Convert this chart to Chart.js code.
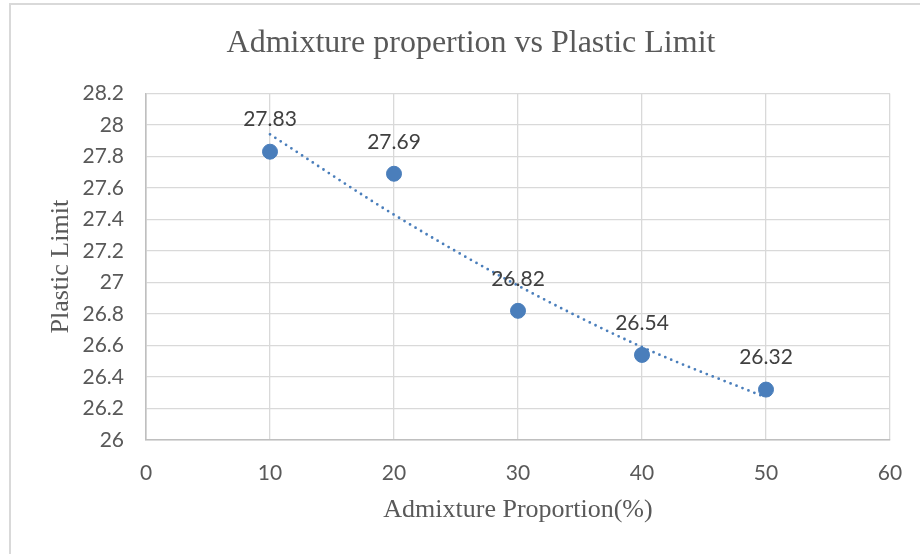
<!DOCTYPE html>
<html>
<head>
<meta charset="utf-8">
<script src="https://cdn.jsdelivr.net/npm/chart.js@4"></script>
<style>
  html, body { margin: 0; padding: 0; background: #fff; }
  #wrap { position: relative; width: 920px; height: 554px; overflow: hidden; }
  #frame { position: absolute; left: 9px; top: 3px; width: 940px; height: 600px;
           border-left: 2px solid #d9d9d9; border-top: 2px solid #d9d9d9; }
  canvas { position: absolute; left: 0; top: 0; }
</style>
</head>
<body>
<div id="wrap">
  <div id="frame"></div>
  <canvas id="chart" width="920" height="554"></canvas>
</div>
<script>
// admixture proportion (%) and measured plastic limit
const proportions = [10, 20, 30, 40, 50];
const plasticLimit = [27.83, 27.69, 26.82, 26.54, 26.32];

// dotted trendline
const trendX = [10, 20, 30, 40, 50];
const trendY = [27.94, 27.43, 26.98, 26.59, 26.27];

const xTicks = [0, 10, 20, 30, 40, 50, 60];
const yTicks = [26, 26.2, 26.4, 26.6, 26.8, 27, 27.2, 27.4, 27.6, 27.8, 28, 28.2];

const blue = '#4a7ebb';
const serif = "'Liberation Serif', 'Times New Roman', serif";
const sans = "Lato, 'Open Sans', sans-serif";

// writes each value just above its marker
const valueLabels = {
  id: 'valueLabels',
  afterDatasetsDraw(chart) {
    const ctx = chart.ctx;
    const meta = chart.getDatasetMeta(1);
    ctx.save();
    ctx.font = '21px ' + sans;
    ctx.fillStyle = '#404040';
    ctx.textAlign = 'center';
    ctx.textBaseline = 'middle';
    meta.data.forEach((pt, i) => {
      ctx.fillText(String(plasticLimit[i]), pt.x, pt.y - 32);
    });
    ctx.restore();
  }
};

new Chart(document.getElementById('chart').getContext('2d'), {
  type: 'scatter',
  data: {
    datasets: [
      {
        type: 'line',
        label: 'Trend',
        data: trendX.map((x, i) => ({ x: x, y: trendY[i] })),
        borderColor: blue,
        borderWidth: 2.8,
        borderDash: [0, 6.4],
        borderCapStyle: 'round',
        pointRadius: 0,
        fill: false,
        cubicInterpolationMode: 'monotone'
      },
      {
        label: 'Plastic Limit',
        data: proportions.map((x, i) => ({ x: x, y: plasticLimit[i] })),
        backgroundColor: blue,
        borderColor: blue,
        pointRadius: 7.5,
        pointHoverRadius: 7.5
      }
    ]
  },
  options: {
    responsive: false,
    animation: false,
    events: [],
    layout: { padding: { left: 52, right: 30, top: 0, bottom: 0 } },
    plugins: {
      legend: { display: false },
      tooltip: { enabled: false },
      title: {
        display: true,
        text: 'Admixture propertion vs Plastic Limit',
        color: '#595959',
        font: { family: serif, size: 32, weight: 'normal' },
        padding: { top: 24, bottom: 31 }
      }
    },
    scales: {
      x: {
        type: 'linear',
        min: 0,
        max: 60,
        afterBuildTicks: s => { s.ticks = xTicks.map(v => ({ value: v })); },
        afterFit: s => { s.height = 114; },
        ticks: { color: '#595959', font: { family: sans, size: 21 }, padding: 14 },
        // invisible tick marks just push the labels down
        grid: { color: '#d9d9d9', lineWidth: 1.3, drawTicks: true, tickLength: 7, tickColor: 'rgba(0,0,0,0)' },
        border: { color: '#bfbfbf', width: 1.6 },
        title: {
          display: true,
          text: 'Admixture Proportion(%)',
          color: '#595959',
          font: { family: serif, size: 26, weight: 'normal' },
          padding: { top: 0, bottom: 28 }
        }
      },
      y: {
        min: 26,
        max: 28.2,
        afterBuildTicks: s => { s.ticks = yTicks.map(v => ({ value: v })); },
        afterFit: s => { s.width = 94; },
        ticks: {
          color: '#595959',
          font: { family: sans, size: 21 },
          padding: 22,
          callback: v => String(Math.round(v * 10) / 10)
        },
        grid: { color: '#d9d9d9', lineWidth: 1.3, drawTicks: false },
        border: { color: '#bfbfbf', width: 1.6 },
        title: {
          display: true,
          text: 'Plastic Limit',
          color: '#595959',
          font: { family: serif, size: 26, weight: 'normal' },
          padding: { top: -6, bottom: 0 }
        }
      }
    }
  },
  plugins: [valueLabels]
});
</script>
</body>
</html>
